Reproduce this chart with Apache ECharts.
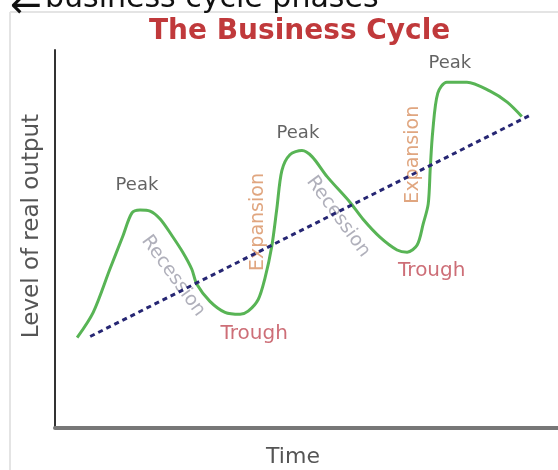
<!DOCTYPE html>
<html>
<head>
<meta charset="utf-8">
<script src="https://cdn.jsdelivr.net/npm/echarts@6/dist/echarts.min.js"></script>
<style>
  html, body { margin: 0; padding: 0; background: #fff; }
  #chart { width: 558px; height: 470px; }
</style>
</head>
<body>
<div id="chart"></div>
<script>
// business cycle curve, time (0-100) vs level of output (0-100)
const cycleTime = [4.4, 7.6, 10.9, 13.5, 15.3, 16.9, 18.9, 20.9, 23.3, 25.4, 27.2, 28.2, 30.8, 33.8, 36.8,
  38.4, 40.4, 41.7, 43.1, 44.1, 45.1, 46.7, 49.1, 51.1, 54.1, 58.6, 61.2, 64.6, 68.0, 70.0, 72.0,
  73.2, 74.2, 74.6, 75.1, 76.1, 77.9, 81.9, 86.5, 89.9, 92.8]
const cycleLevel = [23.9, 30.6, 42.0, 50.8, 56.9, 57.7, 57.4, 55.3, 50.8, 46.5, 42.0, 38.0, 33.5, 30.6, 30.1,
  30.9, 34.0, 39.4, 48.1, 58.0, 68.1, 72.3, 73.4, 71.8, 66.5, 59.8, 55.3, 50.5, 47.1, 46.5, 48.4,
  54.0, 59.3, 68.6, 78.5, 88.6, 91.5, 91.5, 89.1, 86.2, 82.4]

// long-run growth trend
const trendTime = [7.0, 94.4]
const trendLevel = [24.2, 82.7]

// phase labels
const phaseNames = ['Peak', 'Peak', 'Peak', 'Trough', 'Trough', 'Recession', 'Recession', 'Expansion', 'Expansion']
const phaseTime = [16.3, 48.3, 78.5, 39.6, 74.9, 23.5, 56.3, 40.4, 71.2]
const phaseLevel = [64.1, 77.9, 96.5, 25.0, 41.5, 40.2, 55.9, 54.5, 72.3]

const phaseStyle = {
  Peak: { color: '#3c3c3c', fontSize: 18, rotate: 0 },
  Trough: { color: '#c04a55', fontSize: 20, rotate: 0 },
  Recession: { color: '#9c9caa', fontSize: 19, rotate: -54 },
  Expansion: { color: '#d89060', fontSize: 19, rotate: 90 }
}

const myCharts = echarts.init(document.getElementById('chart'))

const fontFamily = 'DejaVu Sans'

const option = {
  animation: false,
  title: {
    text: 'The Business Cycle',
    left: 149,
    top: 18,
    padding: 0,
    textStyle: { color: '#c0393b', fontSize: 28, fontWeight: 'bold', fontFamily }
  },
  graphic: [
    // light frame of the original picture
    { type: 'line', shape: { x1: 10, y1: 12, x2: 558, y2: 12 }, style: { stroke: '#e4e4e4', lineWidth: 2 } },
    { type: 'line', shape: { x1: 10, y1: 12, x2: 10, y2: 470 }, style: { stroke: '#e4e4e4', lineWidth: 2 } },
    // cut-off caption above the picture
    {
      type: 'text', left: 10, top: -12,
      style: { text: '←', fill: '#111', fontSize: 38, fontFamily }
    },
    {
      type: 'text', left: 45, top: -16,
      style: { text: 'business cycle phases', fill: '#111', fontSize: 30, fontFamily }
    },
    // axis titles
    {
      type: 'text', x: 293, y: 457,
      style: { text: 'Time', fill: '#555', fontSize: 22, fontFamily, align: 'center', verticalAlign: 'middle' }
    },
    {
      type: 'text', x: 32, y: 226, rotation: Math.PI / 2,
      style: { text: 'Level of real output', fill: '#555', fontSize: 23, fontFamily, align: 'center', verticalAlign: 'middle' }
    }
  ],
  grid: { left: 55, right: 0, top: 50, bottom: 42, containLabel: false },
  xAxis: {
    type: 'value',
    min: 0,
    max: 100,
    axisLine: { show: true, onZero: false, lineStyle: { color: '#777', width: 4 } },
    axisTick: { show: false },
    axisLabel: { show: false },
    splitLine: { show: false }
  },
  yAxis: {
    type: 'value',
    min: 0,
    max: 100,
    axisLine: { show: true, onZero: false, lineStyle: { color: '#333', width: 2 } },
    axisTick: { show: false },
    axisLabel: { show: false },
    splitLine: { show: false }
  },
  series: [
    {
      name: 'phases',
      type: 'scatter',
      symbolSize: 1,
      itemStyle: { color: 'rgba(0,0,0,0)' },
      z: 1,
      data: phaseNames.map((n, i) => ({
        value: [phaseTime[i], phaseLevel[i]],
        label: {
          show: true,
          position: 'inside',
          formatter: n,
          color: phaseStyle[n].color,
          fontSize: phaseStyle[n].fontSize,
          rotate: phaseStyle[n].rotate,
          fontFamily
        }
      }))
    },
    {
      name: 'trend',
      type: 'line',
      showSymbol: false,
      z: 3,
      lineStyle: { color: '#262673', width: 3, type: [5, 4] },
      data: trendTime.map((t, i) => [t, trendLevel[i]])
    },
    {
      name: 'cycle',
      type: 'line',
      smooth: 0.3,
      showSymbol: false,
      z: 2,
      lineStyle: { color: '#58b455', width: 3 },
      data: cycleTime.map((t, i) => [t, cycleLevel[i]])
    }
  ]
}
myCharts.setOption(option)
</script>
</body>
</html>
